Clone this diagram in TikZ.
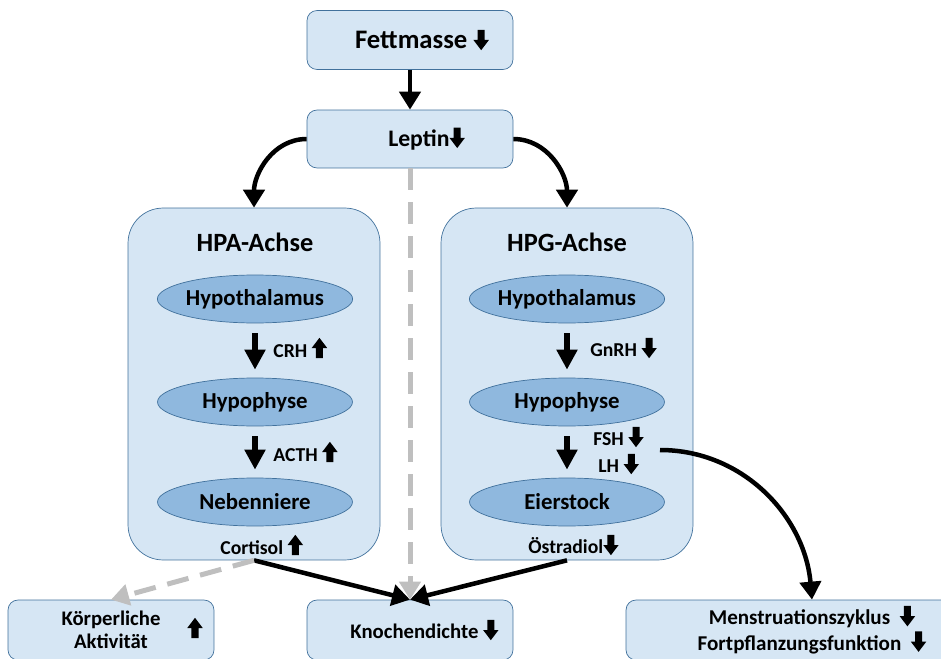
\documentclass[tikz,border=0pt]{standalone}
\usepackage{fontspec}
\setmainfont{Carlito}
\usetikzlibrary{positioning,shapes.geometric,arrows.meta}

\definecolor{boxfill}{RGB}{214,230,244}
\definecolor{boxline}{RGB}{65,113,156}
\definecolor{organfill}{RGB}{143,184,222}
\definecolor{dashgray}{RGB}{191,191,191}

% small block arrows used after the labels
\newcommand{\dnarr}{\tikz[baseline=0pt]\fill[black, sharp corners, draw=none]
  (2.4pt,10.8pt) -- (6.4pt,10.8pt) -- (6.4pt,5pt) -- (8.8pt,5pt) -- (4.4pt,-0.8pt)
  -- (0pt,5pt) -- (2.4pt,5pt) -- cycle;}
\newcommand{\uparr}{\tikz[baseline=0pt]\fill[black, sharp corners, draw=none]
  (2.4pt,-0.6pt) -- (6.4pt,-0.6pt) -- (6.4pt,5.2pt) -- (8.8pt,5.2pt) -- (4.4pt,11pt)
  -- (0pt,5.2pt) -- (2.4pt,5.2pt) -- cycle;}

\begin{document}
\begin{tikzpicture}[x=0.02cm, y=-0.02cm,
  box/.style={rectangle, draw=boxline, fill=boxfill, rounded corners=2mm,
              minimum width=4.12cm, minimum height=1.18cm, align=center,
              font=\bfseries\fontsize{11.8}{14.5}\selectfont},
  axisbox/.style={rectangle, draw=boxline, fill=boxfill, rounded corners=7mm,
                  minimum width=5.04cm, minimum height=7.04cm},
  organ/.style={ellipse, draw=boxline, fill=organfill, minimum width=3.9cm,
                minimum height=0.96cm, inner sep=0pt,
                font=\bfseries\fontsize{13}{15}\selectfont},
  hormone/.style={anchor=west, inner sep=0pt, font=\bfseries\fontsize{11.2}{13}\selectfont},
  title/.style={font=\bfseries\fontsize{15}{17}\selectfont},
  msg/.style={-{Triangle[width=4.2mm, length=3.6mm]}, line width=0.9mm},
  cascade/.style={-{Triangle[width=4mm, length=4mm]}, line width=1.1mm,
                  shorten <=2mm, shorten >=1.6mm},
  weak/.style={-{Triangle[width=4.2mm, length=3.6mm]}, line width=1mm, dashgray,
               dash pattern=on 4.4mm off 2.4mm}
]
  \useasboundingbox (0,0) rectangle (941,659);
  \clip (0,0) rectangle (941,659);

  % Top: fat mass and leptin
  \node[box, font=\bfseries\fontsize{15.2}{17}\selectfont] (fett) at (410,40) {\hspace*{0.9em}Fettmasse \dnarr};
  \node[box, minimum height=1.16cm, font=\bfseries\fontsize{13.5}{15}\selectfont]
    (lep) at (410,139) {\hspace*{1.4em}Leptin\dnarr};

  % The two axes
  \node[axisbox] (hpa) at (254,384) {};
  \node[axisbox] (hpg) at (567,384) {};
  \node[title] (hpatitle) at (255,242) {HPA-Achse};
  \node[title] (hpgtitle) at (567,242) {HPG-Achse};

  \node[organ] (hpathal) at (255,299) {Hypothalamus};
  \node[organ] (hpaphys) at (255,402) {Hypophyse};
  \node[organ] (neben) at (255,502) {Nebenniere};
  \node[organ] (hpgthal) at (567,299) {Hypothalamus};
  \node[organ] (hpgphys) at (567,402) {Hypophyse};
  \node[organ] (eier) at (567,502) {Eierstock};

  % Hormones
  \node[hormone] (crh) at (273,348) {CRH \uparr};
  \node[hormone] (acth) at (273,452) {ACTH \uparr};
  \node[hormone] (cortisol) at (220,545) {Cortisol \uparr};
  \node[hormone] (gnrh) at (590,348) {GnRH \dnarr};
  \node[hormone] (fsh) at (593,437) {FSH \dnarr};
  \node[hormone] (lh) at (598,464) {LH \dnarr};
  \node[hormone] (oestradiol) at (528,545) {Östradiol\dnarr};

  % Outcomes
  \node[box, minimum height=1.2cm, font=\bfseries\fontsize{11.8}{13}\selectfont]
    (koerper) at (111,630) {Körperliche\\Aktivität};
  \node[inner sep=0pt] (koerperup) at (195,628) {\uparr};
  \node[box, minimum height=1.2cm] (knochen) at (410,630) {\hspace*{1.4em}Knochendichte\ \dnarr};
  \node[box, minimum height=1.2cm, minimum width=7.44cm, font=\bfseries\fontsize{12}{14.5}\selectfont]
    (menstr) at (812,630)
    {Menstruationszyklus\ \ \dnarr\\Fortpflanzungsfunktion\ \ \dnarr};

  % Connectors
  \draw[msg] (fett) -- (lep);
  \draw[msg] (lep.west) to[out=180, in=90] (hpa.north);
  \draw[msg] (lep.east) to[out=0, in=90] (hpg.north);
  \draw[weak] (lep) -- (knochen);

  \draw[cascade] (hpathal) -- (hpaphys);
  \draw[cascade] (hpaphys) -- (neben);
  \draw[cascade] (hpgthal) -- (hpgphys);
  \draw[cascade] (hpgphys) -- (eier);

  \draw[msg] (hpa.south) -- (knochen.north);
  \draw[msg] (hpg.south) -- (knochen.north);
  \draw[weak] (hpa.south) -- (koerper.north);

  \coordinate (gonadout) at (660,450);
  \draw[msg] (gonadout) to[out=0, in=95] (menstr.north);
\end{tikzpicture}
\end{document}
